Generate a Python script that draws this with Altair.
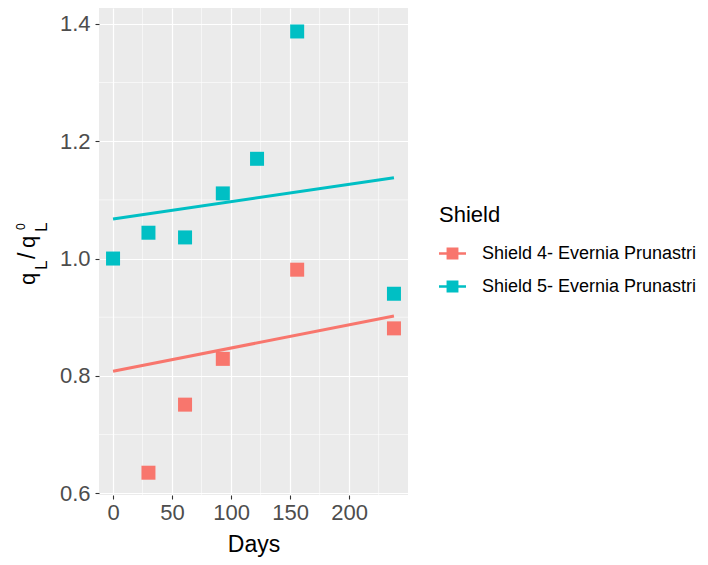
import altair as alt
import pandas as pd

# ---- data ----
shield4 = "Shield 4- Evernia Prunastri"
shield5 = "Shield 5- Evernia Prunastri"
days4 = [30, 61, 93, 156, 238]
ratio4 = [0.635, 0.751, 0.829, 0.981, 0.881]
days5 = [0, 30, 61, 93, 122, 156, 238]
ratio5 = [1.000, 1.044, 1.036, 1.111, 1.170, 1.387, 0.940]
fit_days = [0, 238]
fit4 = [0.808, 0.902]
fit5 = [1.0675, 1.1377]
x_ticks = [0, 50, 100, 150, 200]
x_minor = [25, 75, 125, 175, 225]
y_ticks = [0.6, 0.8, 1.0, 1.2, 1.4]
y_minor = [0.7, 0.9, 1.1, 1.3]

FONT = "Liberation Sans"
C4, C5 = "#F8766D", "#00BFC4"

pts = pd.DataFrame({
    "Days": days4 + days5,
    "ratio": ratio4 + ratio5,
    "Shield": [shield4] * len(days4) + [shield5] * len(days5),
})
fits = pd.DataFrame({
    "Days": fit_days + fit_days,
    "ratio": fit4 + fit5,
    "Shield": [shield4] * 2 + [shield5] * 2,
})

xscale = alt.Scale(domain=[-11.9, 249.9], nice=False, zero=False)
yscale = alt.Scale(domain=[0.597, 1.427], nice=False, zero=False)
cscale = alt.Scale(domain=[shield4, shield5], range=[C4, C5])

key_path = "M-1,-0.09H-0.44V-0.44H0.44V-0.09H1V0.09H0.44V0.44H-0.44V0.09H-1Z"

xaxis = alt.Axis(values=x_ticks, title="Days", grid=True, gridColor="white", gridWidth=1.2,
                 domain=False, tickColor="#333333", tickSize=4, tickWidth=1.1,
                 labelFontSize=22, labelColor="#4D4D4D", labelFont=FONT, labelPadding=3,
                 titleFont=FONT, titleFontSize=23, titleFontWeight="normal", titleColor="black",
                 titlePadding=10)
yaxis = alt.Axis(values=y_ticks, title=None, format=".1f", grid=True, gridColor="white",
                 gridWidth=1.2, domain=False, tickColor="#333333", tickSize=4, tickWidth=1.1,
                 labelFontSize=22, labelColor="#4D4D4D", labelFont=FONT, labelPadding=5)

minor_x = alt.Chart(pd.DataFrame({"v": x_minor})).mark_rule(color="white", strokeWidth=0.6).encode(
    x=alt.X("v:Q", scale=xscale, axis=xaxis))
minor_y = alt.Chart(pd.DataFrame({"v": y_minor})).mark_rule(color="white", strokeWidth=0.6).encode(
    y=alt.Y("v:Q", scale=yscale, axis=yaxis))

points = alt.Chart(pts).mark_point(shape="square", filled=True, size=196, opacity=1).encode(
    x=alt.X("Days:Q", scale=xscale, axis=xaxis),
    y=alt.Y("ratio:Q", scale=yscale, axis=yaxis),
    color=alt.Color("Shield:N", scale=cscale, legend=alt.Legend(
        title="Shield", orient="none", legendX=340, legendY=197,
        symbolType=key_path, symbolSize=729, symbolStrokeWidth=0, symbolOpacity=1,
        titleFont=FONT, titleFontSize=22, titleFontWeight="normal", titleColor="black",
        labelFont=FONT, labelFontSize=18, labelColor="black", labelOffset=16,
        labelLimit=400, rowPadding=10, titlePadding=13)),
)

lines = alt.Chart(fits).mark_line(strokeWidth=3).encode(
    x=alt.X("Days:Q", scale=xscale),
    y=alt.Y("ratio:Q", scale=yscale),
    color=alt.Color("Shield:N", scale=cscale, legend=None),
    detail="Shield:N",
)

one = pd.DataFrame({"a": [0]})

def piece(txt, x, y, size):
    return alt.Chart(one).mark_text(text=txt, angle=270, align="left", baseline="alphabetic",
                                    font=FONT, fontSize=size, color="black").encode(
        x=alt.value(x), y=alt.value(y))

title_parts = [
    piece("q", -64, 277, 22),
    piece("L", -52, 262, 17),
    piece("/", -64, 251, 23),
    piece("q", -64, 240, 22),
    piece("L", -52, 224, 17),
    piece("0", -74, 222, 12),
]

chart = alt.layer(minor_x, minor_y, points, lines, *title_parts).properties(
    width=309, height=487,
    padding={"left": 91, "top": 0, "right": 292, "bottom": 62},
    autosize=alt.AutoSizeParams(type="none"),
).configure(background="white").configure_view(fill="#EBEBEB", stroke=None)

chart.save("out.html", embed_options={"renderer": "svg", "actions": False})
